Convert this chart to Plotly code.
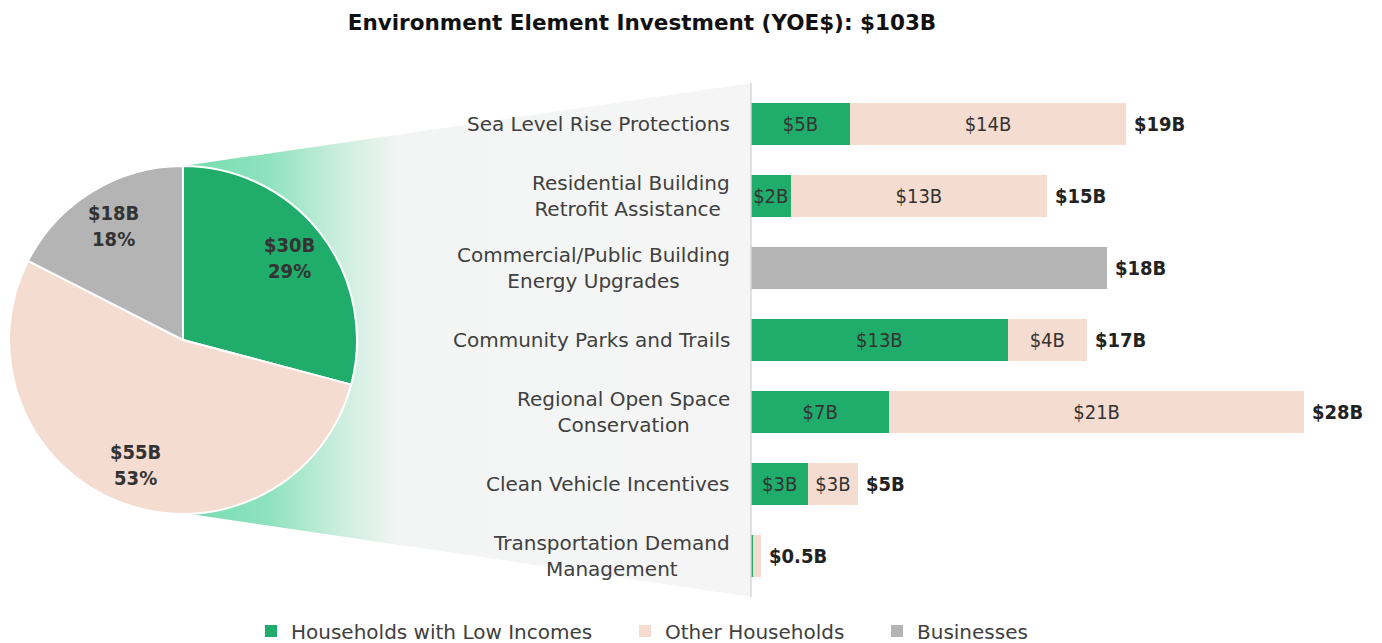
import math
import plotly.graph_objects as go

W, H = 1382, 643
OX, OY = 8, 8          # default page (body) margin of the browser
FW, FH = W - OX, H - OY


def fx(px):
    return (px - OX) / FW


def fy(py):
    return 1 - (py - OY) / FH


title_text = "Environment Element Investment (YOE$): $103B"
groups = ["Households with Low Incomes", "Other Households", "Businesses"]
group_colors = ["#20AC6B", "#F5DCD0", "#B4B4B4"]

# Pie (share of total)
pie_values = [30, 55, 18]
pie_value_labels = ["$30B", "$55B", "$18B"]
pie_pct_labels = ["29%", "53%", "18%"]

# Bar breakdown ($B)
categories = [
    "Sea Level Rise Protections",
    "Residential Building Retrofit Assistance",
    "Commercial/Public Building Energy Upgrades",
    "Community Parks and Trails",
    "Regional Open Space Conservation",
    "Clean Vehicle Incentives",
    "Transportation Demand Management",
]
category_display = [
    "Sea Level Rise Protections",
    "Residential Building<br>Retrofit Assistance ",
    "Commercial/Public Building<br>Energy Upgrades",
    "Community Parks and Trails",
    "Regional Open Space<br>Conservation",
    "Clean Vehicle Incentives",
    "Transportation Demand<br>Management",
]
low_income = [5, 2, 0, 13, 7, 2.9, 0.1]
other_households = [14, 13, 0, 4, 21, 2.5, 0.4]
businesses = [0, 0, 18, 0, 0, 0, 0]
low_income_labels = ["$5B", "$2B", "", "$13B", "$7B", "$3B", ""]
other_labels = ["$14B", "$13B", "", "$4B", "$21B", "$3B", ""]
business_labels = ["", "", "", "", "", "", ""]
total_labels = ["$19B", "$15B", "$18B", "$17B", "$28B", "$5B", "$0.5B"]

FONT = "DejaVu Sans, sans-serif"
FONT_C = "DejaVu Sans Condensed, DejaVu Sans, sans-serif"
TXT = "#404040"

fig = go.Figure()

# ---- connector panel (decoration) on a pixel overlay axis ----
cx, cy, r = 183, 340, 174
panel_x0 = 751
conn_x = [cx, panel_x0, panel_x0, cx + 7, cx]
conn_y = [cy - r, 83, 597, cy + r, cy - r]
fig.add_trace(go.Scatter(
    x=conn_x, y=conn_y, xaxis="x2", yaxis="y2", mode="none", fill="toself",
    fillgradient=dict(type="horizontal", colorscale=[
        [0, "#74DCAE"], [0.15, "#8FE2BE"], [0.28, "#CDEEDF"],
        [0.38, "#F3F5F4"], [1, "#F5F5F5"]]),
    hoverinfo="skip", showlegend=False))

# ---- bars ----
bar_specs = [
    (low_income, low_income_labels, 0, "legend"),
    (other_households, other_labels, 1, "legend2"),
    (businesses, business_labels, 2, "legend3"),
]
for vals, labs, gi, lg in bar_specs:
    fig.add_trace(go.Bar(
        y=categories, x=vals, orientation="h", name=groups[gi],
        marker=dict(color=group_colors[gi], line=dict(width=0)),
        text=labs, textposition="inside", insidetextanchor="middle",
        constraintext="none", textangle=0,
        textfont=dict(family=FONT_C, size=20, color="#333333"),
        legend=lg, hoverinfo="skip"))

# ---- pie ----
fig.add_trace(go.Pie(
    values=pie_values, labels=groups, textinfo="none",
    sort=False, direction="clockwise", rotation=0,
    marker=dict(colors=group_colors, line=dict(color="white", width=2)),
    domain=dict(x=[fx(cx - r), fx(cx + r)], y=[fy(cy + r), fy(cy - r)]),
    showlegend=False, hoverinfo="skip"))

annotations = []

# pie labels placed along each slice's mid-angle
tot_pie = sum(pie_values)
cum = 0.0
for v, vl, pl in zip(pie_values, pie_value_labels, pie_pct_labels):
    mid = (cum + v / 2) / tot_pie * 2 * math.pi
    cum += v
    lx = cx + 0.77 * r * math.sin(mid)
    ly = cy - 0.77 * r * math.cos(mid)
    annotations.append(dict(
        x=fx(lx), y=fy(ly), xref="paper", yref="paper", text=f"{vl}<br>{pl}",
        showarrow=False, xanchor="center", yanchor="middle", align="center",
        font=dict(family=FONT_C, size=20, color="#333333", weight="bold")))

# category labels
for cat, disp in zip(categories, category_display):
    annotations.append(dict(
        x=fx(732), xref="paper", y=cat, yref="y", text=disp, showarrow=False,
        xanchor="right", align="center", font=dict(family=FONT, size=20, color=TXT)))

# totals
totals = [a + b + c for a, b, c in zip(low_income, other_households, businesses)]
for cat, tot, lab in zip(categories, totals, total_labels):
    annotations.append(dict(
        x=tot, xref="x", y=cat, yref="y", text=lab, showarrow=False,
        xanchor="left", xshift=6,
        font=dict(family=FONT_C, size=20, color="#222222", weight="bold")))

px_per_b = 19.75
leg_common = dict(orientation="h", yanchor="middle", y=fy(631), xanchor="left",
                  bgcolor="rgba(0,0,0,0)", font=dict(family=FONT, size=20, color=TXT),
                  itemwidth=30)

fig.update_layout(
    width=FW, height=FH,
    margin=dict(l=0, r=0, t=0, b=0, autoexpand=False),
    paper_bgcolor="white", plot_bgcolor="rgba(0,0,0,0)",
    barmode="stack", bargap=0.4167,
    title=dict(text=title_text, x=fx(642), xanchor="center", y=fy(22), yanchor="middle",
               font=dict(family=FONT, size=21.5, color="#111111", weight="bold")),
    xaxis=dict(domain=[fx(panel_x0), 1], range=[0, (W - panel_x0) / px_per_b],
               visible=False, fixedrange=True),
    yaxis=dict(domain=[fy(592), fy(88)], type="category",
               categoryorder="array", categoryarray=categories, autorange="reversed",
               visible=False, fixedrange=True),
    xaxis2=dict(domain=[0, 1], range=[OX, W], visible=False, anchor="y2", fixedrange=True),
    yaxis2=dict(domain=[0, 1], range=[H, OY], visible=False, anchor="x2", fixedrange=True),
    annotations=annotations,
    shapes=[dict(type="line", xref="x2", yref="y2", x0=panel_x0, x1=panel_x0, y0=83, y1=597,
                 line=dict(color="#D6D6D6", width=1.5), layer="above")],
    legend=dict(x=fx(251), **leg_common),
    legend2=dict(x=fx(625), **leg_common),
    legend3=dict(x=fx(877), **leg_common),
    showlegend=True,
)

fig.write_html("out.html")
